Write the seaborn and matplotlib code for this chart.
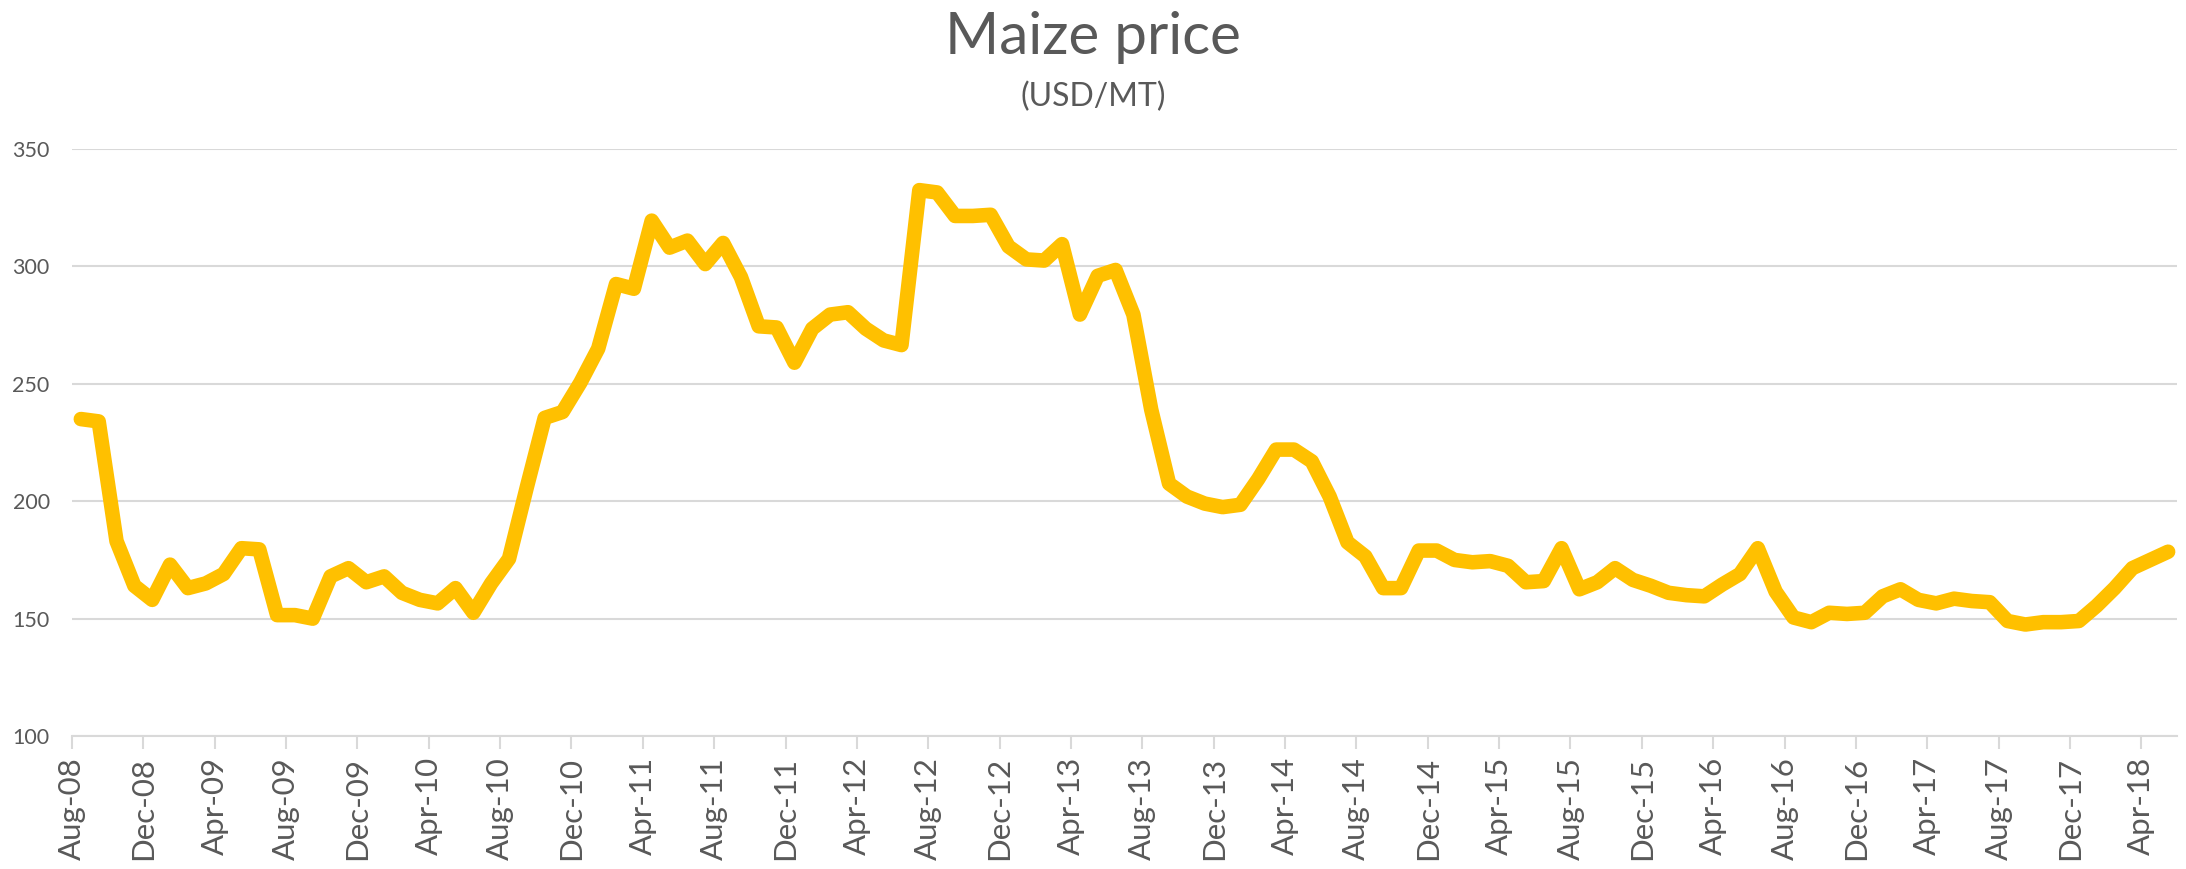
import numpy as np
import pandas as pd
import seaborn as sns
import matplotlib.pyplot as plt

# monthly maize price, Aug-08 .. May-18 (USD/MT)
months = pd.date_range('2008-08-01', periods=118, freq='MS')
prices = [
    235, 234, 183, 164, 158, 173, 163, 165, 169, 180,
    179.5, 151.5, 151.5, 150, 168, 171.5, 165.5, 168, 161, 158,
    156.5, 163, 152.5, 165, 175.5, 206, 235.5, 238, 250.5, 265,
    292.5, 290.5, 319.5, 308, 311, 301, 310, 295.5, 274.5, 274,
    259, 273.5, 279.5, 280.5, 273.5, 268.5, 266.5, 332.5, 331.5, 321.5,
    321.5, 322, 308.5, 303, 302.5, 309.5, 279.5, 296, 298.5, 279.5,
    239, 207.5, 202, 199, 197.5, 198.5, 209.5, 222, 222, 217,
    202, 182.5, 176.5, 163, 163, 179, 179, 175, 174, 174.5,
    172.5, 165.5, 166, 180, 162.5, 165.5, 171.5, 166.5, 164, 161,
    160, 159.5, 164.5, 169, 180, 161.5, 150.5, 148.5, 152.5, 152,
    152.5, 159.5, 162.5, 158, 156.5, 158.5, 157.5, 157, 149, 147.5,
    148.5, 148.5, 149, 155.5, 163, 171.5, 175, 178.5,
]
y_ticks = [100, 150, 200, 250, 300, 350]

df = pd.DataFrame({'idx': np.arange(len(prices)), 'price': prices})

sns.set_style('white')
plt.rcParams['font.family'] = ['Lato', 'DejaVu Sans']

fig = plt.figure(figsize=(21.86, 8.69), dpi=100)
ax = fig.add_axes([0.0329, 0.153, 0.963, 0.6755])

sns.lineplot(data=df, x='idx', y='price', ax=ax, color='#FFC000', linewidth=10.5,
             solid_capstyle='round', solid_joinstyle='round')

ax.set_xlim(-0.5, len(prices) - 0.5)
ax.set_ylim(100, 350)
ax.set_yticks(y_ticks)
ax.yaxis.grid(True, color='#D9D9D9', linewidth=1.5)
ax.set_axisbelow(True)

tick_idx = np.arange(0, len(prices), 4)
ax.set_xticks(tick_idx - 0.5)
ax.set_xticklabels([months[i].strftime('%b-%y') for i in tick_idx], rotation=90,
                   fontsize=22.5, color='#595959')
ax.tick_params(axis='x', length=9, width=1.5, color='#D9D9D9', pad=6, bottom=True)
ax.tick_params(axis='y', length=0, labelsize=15.5, labelcolor='#595959', pad=16)

for s in ['top', 'right', 'left']:
    ax.spines[s].set_visible(False)
ax.spines['bottom'].set_color('#D9D9D9')
ax.spines['bottom'].set_linewidth(1.5)
ax.set_xlabel('')
ax.set_ylabel('')

fig.text(0.5, 0.957, 'Maize price', ha='center', va='center', fontsize=42, color='#595959')
fig.text(0.5, 0.889, '(USD/MT)', ha='center', va='center', fontsize=23, color='#595959')

fig.savefig('out.png', dpi=100)
